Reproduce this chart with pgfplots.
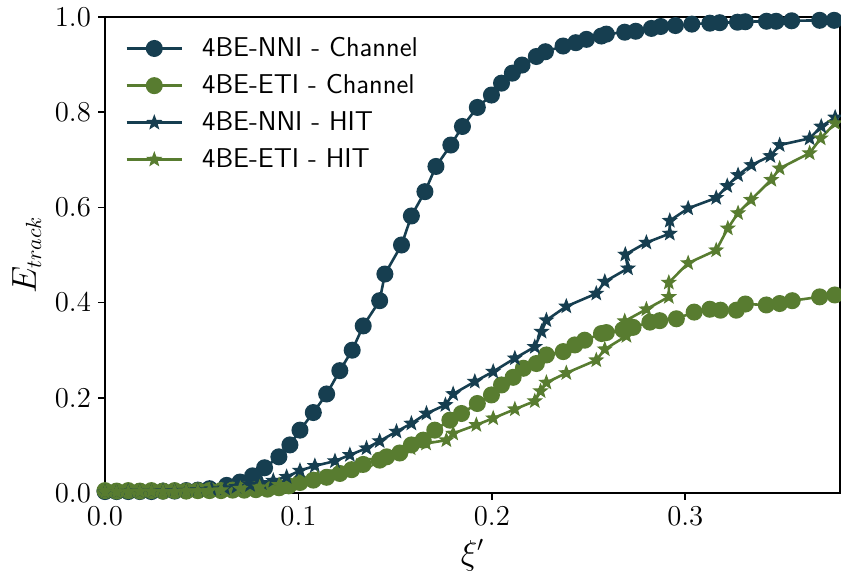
\documentclass[border=0pt]{standalone}
\usepackage{pgfplots}
\pgfplotsset{compat=1.18}
\definecolor{cdark}{RGB}{22,62,80}
\definecolor{cgreen}{RGB}{88,124,48}
\pgfdeclareplotmark{fstar}{%
  \pgfpathmoveto{\pgfpointpolar{90}{\pgfplotmarksize}}%
  \pgfpathlineto{\pgfpointpolar{126}{0.42\pgfplotmarksize}}%
  \pgfpathlineto{\pgfpointpolar{162}{\pgfplotmarksize}}%
  \pgfpathlineto{\pgfpointpolar{198}{0.42\pgfplotmarksize}}%
  \pgfpathlineto{\pgfpointpolar{234}{\pgfplotmarksize}}%
  \pgfpathlineto{\pgfpointpolar{270}{0.42\pgfplotmarksize}}%
  \pgfpathlineto{\pgfpointpolar{306}{\pgfplotmarksize}}%
  \pgfpathlineto{\pgfpointpolar{342}{0.42\pgfplotmarksize}}%
  \pgfpathlineto{\pgfpointpolar{18}{\pgfplotmarksize}}%
  \pgfpathlineto{\pgfpointpolar{54}{0.42\pgfplotmarksize}}%
  \pgfpathclose
  \pgfusepathqfillstroke}
\begin{document}
\begin{tikzpicture}
\begin{axis}[
  name=ax,
  scale only axis,
  width=367.5pt, height=238pt,
  xmin=0, xmax=0.38, ymin=0, ymax=1,
  xtick={0,0.1,0.2,0.3}, ytick={0,0.2,0.4,0.6,0.8,1.0},
  tick pos=left, tick align=outside,
  major tick length=3.5pt,
  every tick/.style={black, line width=0.8pt},
  axis line style={line width=0.9pt},
  xticklabel style={/pgf/number format/.cd, fixed, fixed zerofill, precision=1},
  yticklabel style={/pgf/number format/.cd, fixed, fixed zerofill, precision=1},
  tick label style={font=\fontsize{15.5}{18}\selectfont},
  label style={font=\fontsize{16}{19}\selectfont},
  xlabel={$\xi'$}, ylabel={$E_{track}$},
  legend style={at={(axis description cs:0,1)}, anchor=north west, xshift=7pt, yshift=-6pt,
    draw=none, fill=none, font=\fontsize{13.6}{16}\sffamily, row sep=3.5pt, column sep=7.5pt},
  legend cell align=left,
  legend image code/.code={\draw[mark repeat=2,mark phase=2] plot coordinates {(0cm,0cm) (0.485cm,0cm) (0.97cm,0cm)};},
  every axis plot/.append style={line width=1.3pt},
]
\addplot[cdark, mark=*, mark size=3.6pt] coordinates {
(0.000,0.003)(0.006,0.003)(0.012,0.003)(0.018,0.003)(0.024,0.003)(0.030,0.004)(0.036,0.004)(0.042,0.005)(0.048,0.006)(0.054,0.009)
(0.0629,0.016)(0.0698,0.023)(0.0763,0.036)(0.0825,0.053)(0.0899,0.076)(0.0956,0.101)(0.1008,0.132)(0.1077,0.169)(0.1146,0.208)
(0.1214,0.257)(0.1278,0.300)(0.1335,0.351)(0.1420,0.404)(0.1447,0.460)(0.1533,0.521)(0.1584,0.582)(0.1654,0.633)(0.1711,0.686)
(0.1788,0.731)(0.1848,0.770)(0.1925,0.810)(0.1998,0.836)(0.2050,0.861)(0.2106,0.882)(0.2156,0.899)(0.2230,0.917)(0.2277,0.927)
(0.2368,0.939)(0.2434,0.946)(0.2489,0.953)(0.2566,0.960)(0.2592,0.964)(0.2687,0.968)(0.2744,0.970)(0.2825,0.976)(0.2873,0.980)
(0.2949,0.982)(0.3034,0.985)(0.3127,0.987)(0.3178,0.988)(0.3270,0.989)(0.3310,0.990)(0.3420,0.991)(0.3470,0.991)(0.3550,0.992)
(0.3695,0.993)(0.3770,0.993)(0.3850,0.993)
};
\addlegendentry{4BE-NNI - Channel}
\addplot[cgreen, mark=*, mark size=3.6pt] coordinates {
(0.000,0.005)(0.006,0.004)(0.012,0.005)(0.018,0.004)(0.024,0.005)(0.030,0.004)(0.036,0.005)(0.042,0.004)(0.048,0.005)(0.054,0.005)
(0.060,0.005)(0.066,0.006)(0.072,0.006)(0.078,0.007)(0.084,0.008)
(0.0900,0.011)(0.0950,0.015)(0.1008,0.022)(0.1077,0.027)(0.1146,0.033)(0.1214,0.041)(0.1275,0.049)(0.1335,0.060)(0.1420,0.069)
(0.1456,0.076)(0.1524,0.084)(0.1584,0.101)(0.1645,0.111)(0.1705,0.132)(0.1783,0.153)(0.1843,0.167)(0.1925,0.188)(0.1998,0.206)
(0.2050,0.227)(0.2110,0.243)(0.2163,0.262)(0.2230,0.272)(0.2282,0.290)(0.2369,0.297)(0.2429,0.311)(0.2480,0.321)(0.2567,0.335)
(0.2592,0.337)(0.2678,0.343)(0.2730,0.348)(0.2817,0.359)(0.2868,0.362)(0.2954,0.366)(0.3046,0.380)(0.3127,0.386)(0.3182,0.384)
(0.3264,0.384)(0.3311,0.397)(0.3419,0.395)(0.3488,0.398)(0.3553,0.404)(0.3695,0.412)(0.3773,0.416)
};
\addlegendentry{4BE-ETI - Channel}
\addplot[cdark, mark=fstar, mark size=3.4pt, mark options={fill=cdark, line width=0.6pt}] coordinates {
(0.000,0.002)(0.006,0.002)(0.012,0.003)(0.018,0.003)(0.024,0.003)(0.030,0.004)(0.036,0.004)(0.042,0.005)(0.048,0.006)
(0.055,0.008)(0.062,0.010)(0.068,0.013)(0.075,0.017)(0.081,0.021)(0.087,0.026)(0.0939,0.034)(0.1008,0.047)(0.1085,0.057)
(0.1189,0.067)(0.1266,0.080)(0.1352,0.094)(0.1420,0.109)(0.1507,0.129)(0.1584,0.146)(0.1662,0.167)(0.1760,0.185)(0.1800,0.208)
(0.1912,0.234)(0.2007,0.255)(0.2119,0.283)(0.2222,0.307)(0.2257,0.339)(0.2282,0.363)(0.2385,0.392)(0.2540,0.419)(0.2584,0.444)
(0.2704,0.472)(0.2690,0.501)(0.2799,0.526)(0.2920,0.545)(0.2920,0.572)(0.3015,0.598)(0.3160,0.620)(0.3217,0.645)(0.3273,0.668)
(0.3342,0.689)(0.3440,0.708)(0.3488,0.731)(0.3643,0.745)(0.3703,0.770)(0.3775,0.789)
};
\addlegendentry{4BE-NNI - HIT}
\addplot[cgreen, mark=fstar, mark size=3.4pt, mark options={fill=cgreen, line width=0.6pt}] coordinates {
(0.000,0.002)(0.006,0.002)(0.012,0.002)(0.018,0.003)(0.024,0.003)(0.030,0.003)(0.036,0.003)(0.042,0.004)(0.048,0.004)(0.054,0.005)
(0.060,0.006)(0.070,0.009)(0.080,0.012)(0.090,0.017)(0.100,0.022)(0.110,0.032)(0.120,0.044)(0.130,0.056)(0.140,0.068)(0.150,0.082)
(0.158,0.094)(0.1660,0.104)(0.1765,0.111)(0.1800,0.125)(0.1920,0.143)(0.2007,0.157)(0.2119,0.176)(0.2222,0.193)(0.2252,0.214)
(0.2282,0.232)(0.2385,0.252)(0.2540,0.279)(0.2584,0.302)(0.2696,0.330)(0.2687,0.361)(0.2799,0.386)(0.2915,0.412)(0.2915,0.442)
(0.3015,0.483)(0.3160,0.510)(0.3220,0.556)(0.3273,0.588)(0.3340,0.616)(0.3445,0.658)(0.3488,0.682)(0.3643,0.714)(0.3700,0.745)
(0.3775,0.777)
};
\addlegendentry{4BE-ETI - HIT}
\end{axis}
\pgfresetboundingbox
\path ([xshift=-52.5pt,yshift=-41pt]ax.south west) rectangle ([xshift=0.5pt,yshift=8.5pt]ax.north east);
\end{tikzpicture}
\end{document}
